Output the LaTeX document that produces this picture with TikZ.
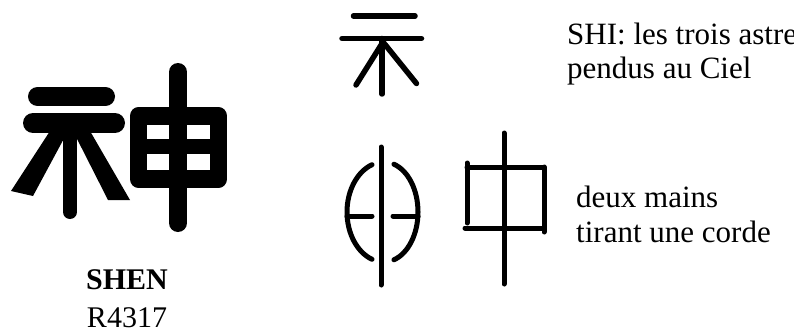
\documentclass[tikz,border=0pt]{standalone}
\usepackage{fontspec}
\setmainfont{Liberation Serif}
\begin{document}
\begin{tikzpicture}[x=1pt,y=-1pt,
  bigstroke/.style={line width=#1, line cap=round, line join=round},
  glyph/.style={line width=5pt, line cap=round, line join=round},
  lbl/.style={inner sep=0pt, anchor=base west, font=\fontsize{31}{37}\selectfont},
  lblc/.style={inner sep=0pt, anchor=base, font=\fontsize{30}{36}\selectfont}]
\useasboundingbox (0,0) rectangle (794,334);
% big character: left radical
\draw[bigstroke=19pt] (37.5,96.5) -- (105.5,96.5);
\draw[bigstroke=20pt] (33,123) -- (115,123);
\draw[bigstroke=14pt] (70,128) -- (70,212);
\fill (50,131) -- (68,131) -- (33,196) -- (11,191) -- cycle;
\fill (73,131) -- (90,131) -- (130,200) -- (108,200) -- cycle;
% big character: right part
\draw[bigstroke=17.5pt] (138.5,116) rectangle (218.5,179);
\draw[bigstroke=15pt] (138.5,146.5) -- (212,146.5);
\draw[bigstroke=18pt] (178,72) -- (178,223);
% small glyph: top
\draw[glyph, line width=5.5pt] (353.5,16) -- (415,16);
\draw[glyph, line width=5.5pt] (342,38.5) -- (421.5,38.5);
\draw[glyph, line width=5.5pt] (382,38.5) -- (382,94);
\draw[glyph, line width=5.5pt] (383,42) -- (356,85);
\draw[glyph, line width=5.5pt] (383,42) -- (416.5,83.5);
% small glyph: middle (circle form)
\draw[glyph] (381,147) -- (381,285);
\draw[glyph] (372,164.7) .. controls (357.1,171.7) and (347,190.6) .. (347,212)
  .. controls (347,233.4) and (357.1,252.3) .. (372,259.3);
\draw[glyph] (393.9,164.2) .. controls (408.2,170.6) and (418,190) .. (418,212)
  .. controls (418,234) and (408.2,253.4) .. (393.9,259.8);
\draw[glyph] (347,216) -- (372,216);
\draw[glyph] (393,216) -- (418,216);
% small glyph: zhong
\draw[glyph] (504,133) -- (504,284);
\draw[glyph] (467,163) -- (467,223);
\draw[glyph] (467,167) -- (544,167);
\draw[glyph] (544,167) -- (544,232);
\draw[glyph] (465,228) -- (544,228);
% texts
\node[lbl] (shi) at (567,45) {SHI: les trois astre};
\node[lbl] (pendus) at (567,79) {pendus au Ciel};
\node[lbl] (deux) at (576,207) {deux mains};
\node[lbl] (tirant) at (576,242) {tirant une corde};
\node[lblc, font=\fontsize{30}{36}\selectfont\bfseries] (shen) at (127,289) {SHEN};
\node[lblc] (code) at (127,327) {R4317};
\end{tikzpicture}
\end{document}
